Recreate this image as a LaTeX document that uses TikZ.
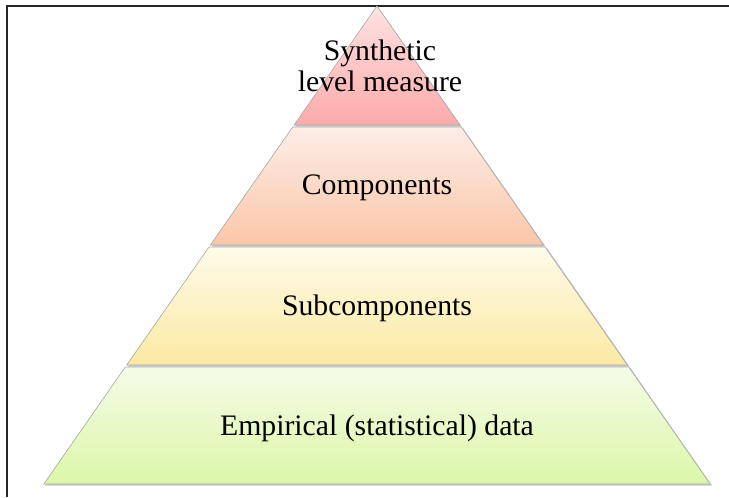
\documentclass[tikz,border=0pt]{standalone}
\usepackage{fontspec}
\setmainfont{Liberation Serif}
\usetikzlibrary{calc}
\definecolor{pinktop}{RGB}{255,226,226}
\definecolor{pinkbot}{RGB}{252,170,170}
\definecolor{peachtop}{RGB}{253,237,230}
\definecolor{peachbot}{RGB}{251,198,168}
\definecolor{yeltop}{RGB}{254,251,233}
\definecolor{yelbot}{RGB}{251,233,163}
\definecolor{grntop}{RGB}{244,251,231}
\definecolor{grnbot}{RGB}{220,247,168}
\tikzset{
  layer/.style={draw=gray!65, line width=0.5pt},
  shadowlayer/.style={fill=black!22},
  lbl/.style={font=\fontsize{22.3}{23.3}\selectfont, align=center}
}

\begin{document}
\begin{tikzpicture}[x=0.75pt,y=-0.75pt]
            \useasboundingbox (0,0) rectangle (729,497);
            \draw[line width=1.3pt, black!85] (7,497)--(7,6)--(729,6);
            % shadows
            \fill[shadowlayer] (378,7)--(461.5,126.5)--(295,126.5)--cycle;
            \fill[shadowlayer] (294,128)--(463,128)--(545.5,246.5)--(212,246.5)--cycle;
            \fill[shadowlayer] (210.5,248)--(547,248)--(629.5,366.5)--(128,366.5)--cycle;
            \fill[shadowlayer] (126.5,368)--(630.5,368)--(712,485.5)--(45,485.5)--cycle;
            % layers
            \shade[layer, top color=pinktop, bottom color=pinkbot] (377,6)--(459.9,125)--(294.1,125)--cycle;
            \shade[layer, top color=peachtop, bottom color=peachbot] (292.7,127)--(461.3,127)--(543.6,245)--(210.4,245)--cycle;
            \shade[layer, top color=yeltop, bottom color=yelbot] (209,247)--(545,247)--(627.3,365)--(126.7,365)--cycle;
            \shade[layer, top color=grntop, bottom color=grnbot] (125.3,367)--(628.7,367)--(710.2,484)--(43.8,484)--cycle;
            % labels
            \node[lbl] (synth) at (380,66) {Synthetic\\level measure};
            \node[lbl] (comp) at (377,188) {Components};
            \node[lbl] (subcomp) at (377,308) {Subcomponents};
            \node[lbl] (empir) at (377,428) {Empirical (statistical) data};
\end{tikzpicture}
\end{document}
